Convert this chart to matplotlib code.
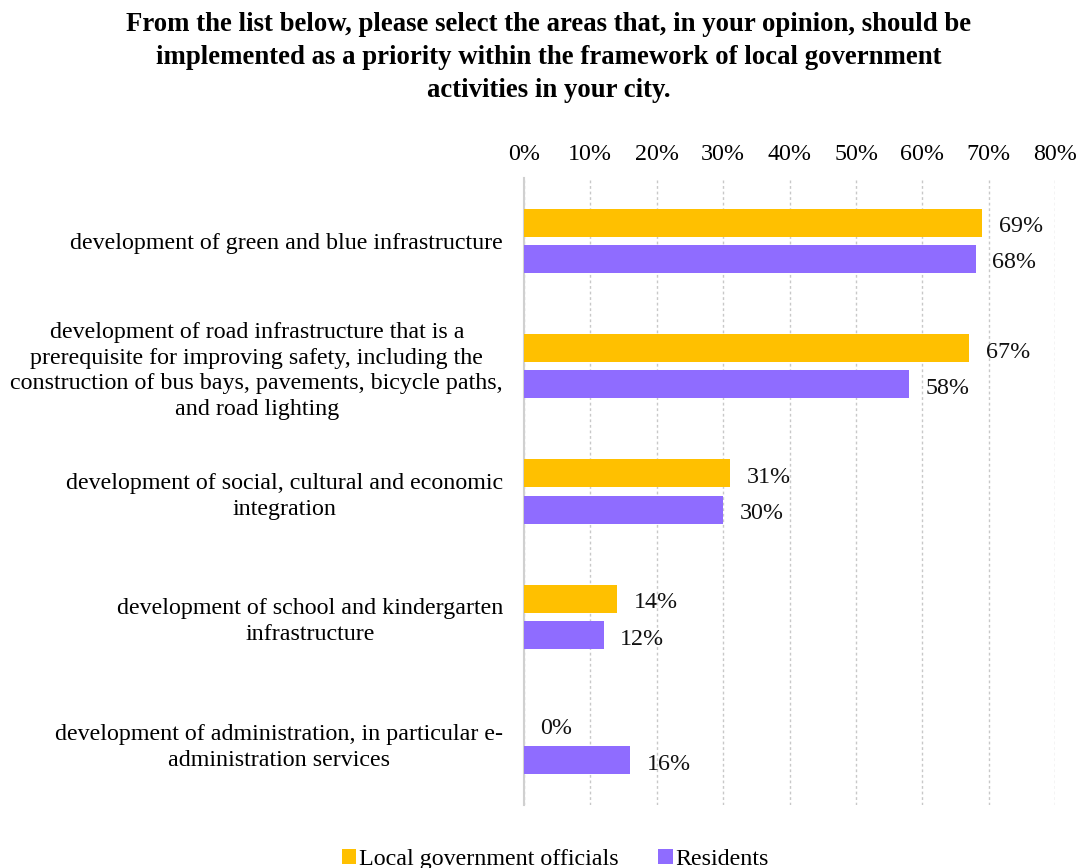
import matplotlib
matplotlib.use("Agg")
import matplotlib.pyplot as plt
import numpy as np

plt.rcParams['font.family'] = ['Liberation Serif', 'DejaVu Serif']

title = ("From the list below, please select the areas that, in your opinion, should be\n"
         "implemented as a priority within the framework of local government\n"
         "activities in your city.")

categories = [
    "development of green and blue infrastructure",
    "development of road infrastructure that is a\n"
    "prerequisite for improving safety, including the\n"
    "construction of bus bays, pavements, bicycle paths,\n"
    "and road lighting",
    "development of social, cultural and economic\nintegration",
    "development of school and kindergarten\ninfrastructure",
    "development of administration, in particular e-\nadministration services",
]
officials = [69, 67, 31, 14, 0]
residents = [68, 58, 30, 12, 16]
series_names = ["Local government officials", "Residents"]
colors = ["#FFC000", "#8F6CFF"]

fig = plt.figure(figsize=(10.78, 8.68), dpi=100)
ax = fig.add_axes([0.486, 0.0726, 0.493, 0.7224])

y = np.arange(len(categories))
h = 0.223
off = 0.144
b1 = ax.barh(y - off, officials, height=h, color=colors[0], label=series_names[0], zorder=3)
b2 = ax.barh(y + off, residents, height=h, color=colors[1], label=series_names[1], zorder=3)

for bars, vals in ((b1, officials), (b2, residents)):
    for rect, v in zip(bars, vals):
        ax.annotate(f"{v}%", (v, rect.get_y() + rect.get_height() / 2),
                    xytext=(12, -3), textcoords="offset points",
                    ha="left", va="center", fontsize=17.3, color="#111111")

ax.set_xlim(0, 80)
ax.set_ylim(len(categories) - 0.5, -0.5)
ax.set_xticks(np.arange(0, 81, 10))
ax.set_xticklabels([f"{t}%" for t in range(0, 81, 10)], fontsize=17.3)
ax.xaxis.tick_top()
ax.tick_params(axis="x", length=0, pad=9.5)
ax.set_yticks(y)
ax.set_yticklabels(categories, fontsize=17.3, linespacing=1.3)
for lab in ax.get_yticklabels():
    lab.set_multialignment("center")
ax.tick_params(axis="y", length=0, pad=15)

ax.grid(axis="x", color="#C8C8C8", linestyle=(0, (2, 2)), linewidth=1, zorder=0)
for s in ("top", "right", "bottom"):
    ax.spines[s].set_visible(False)
ax.spines["left"].set_color("#D0D0D0")
ax.spines["left"].set_linewidth(1.5)

fig.text(0.509, 0.986, title, ha="center", va="top", fontsize=19.3,
         fontweight="bold", linespacing=1.41)

leg = fig.legend(handles=[b1, b2], labels=series_names, loc="lower center",
                 bbox_to_anchor=(0.515, -0.027), ncol=2, frameon=False,
                 fontsize=17.3, handlelength=0.6, handleheight=0.6,
                 handletextpad=0.1, columnspacing=1.65)

fig.savefig("out.png", dpi=100, facecolor="white")
